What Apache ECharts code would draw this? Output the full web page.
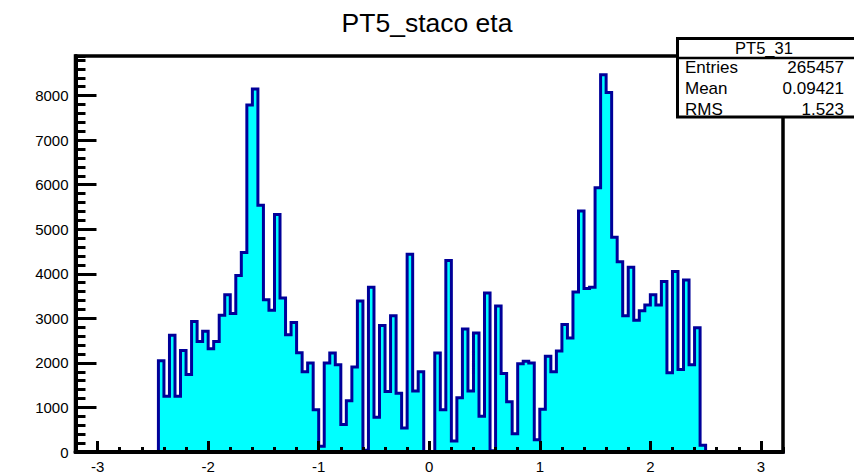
<!DOCTYPE html>
<html>
<head>
<meta charset="utf-8">
<title>PT5_staco eta</title>
<script src="https://cdn.jsdelivr.net/npm/echarts@6/dist/echarts.min.js"></script>
<style>
  html, body { margin: 0; padding: 0; background: #ffffff; }
  #chart { width: 854px; height: 474px; }
</style>
</head>
<body>
<div id="chart"></div>
<script>
// Muon eta histogram, 0.05-wide bins on [-3.2, 3.2]; only the filled range is listed,
// every other bin is empty.
const binLow = [
  -2.45, -2.40, -2.35, -2.30, -2.25, -2.20, -2.15, -2.10, -2.05, -2.00,
  -1.95, -1.90, -1.85, -1.80, -1.75, -1.70, -1.65, -1.60, -1.55, -1.50,
  -1.45, -1.40, -1.35, -1.30, -1.25, -1.20, -1.15, -1.10, -1.05, -1.00,
  -0.95, -0.90, -0.85, -0.80, -0.75, -0.70, -0.65, -0.60, -0.55, -0.50,
  -0.45, -0.40, -0.35, -0.30, -0.25, -0.20, -0.15, -0.10, -0.05, 0.00,
   0.05,  0.10,  0.15,  0.20,  0.25,  0.30,  0.35,  0.40,  0.45,  0.50,
   0.55,  0.60,  0.65,  0.70,  0.75,  0.80,  0.85,  0.90,  0.95,  1.00,
   1.05,  1.10,  1.15,  1.20,  1.25,  1.30,  1.35,  1.40,  1.45,  1.50,
   1.55,  1.60,  1.65,  1.70,  1.75,  1.80,  1.85,  1.90,  1.95,  2.00,
   2.05,  2.10,  2.15,  2.20,  2.25,  2.30,  2.35,  2.40,  2.45
];
const counts = [
  2050, 1250, 2620, 1250, 2280, 1740, 2930, 2480, 2710, 2320,
  2480, 3070, 3530, 3110, 3960, 4480, 7790, 8150, 5540, 3420,
  3180, 5330, 3460, 2630, 2910, 2230, 1800, 2000,  950,  130,
  2000, 2220, 1960,  615, 1150, 1910, 3390,   40, 3700,  780,
  2840, 1360, 3060, 1320,  540, 4440, 1370, 1800,    0,    0,
  2220,  950, 4300,  245, 1220, 2760, 1370, 2670,  800, 3570,
    30, 3280, 1760, 1130,  410, 1980, 2040, 2000,  275,  960,
  2150, 1800, 2270, 2860, 2560, 3590, 5410, 3670, 3700, 5930,
  8470, 8070, 4820, 4270, 3060, 4150, 2960, 3170, 3300, 3530,
  3300, 3830, 1780, 4050, 1850, 3860, 1960, 2790,  150
];
const binWidth = 0.05;
const etaRange = [-3.2, 3.2];
const xMajorTicks = [-3, -2, -1, 0, 1, 2, 3];
const yMax = 8890;
const yMajorStep = 1000;
const yMinorStep = 200;
const xMinorStep = 0.2;

const histTitle = 'PT5_staco eta';
const statsName = 'PT5_31';
const statsLabels = ['Entries', 'Mean', 'RMS'];
const statsValues = ['265457', '0.09421', '1.523'];

const FONT = '"Liberation Sans", Arial, Helvetica, sans-serif';
const INK = '#000000';
const FILL = '#00ffff';
const EDGE = '#000099';

// Stepped outline: each point holds its count until the next bin edge.
const lastEdge = Math.round((binLow[binLow.length - 1] + binWidth) * 100) / 100;
const stepPoints = [[etaRange[0], 0]]
  .concat(binLow.map((x, i) => [x, counts[i]]))
  .concat([[lastEdge, 0], [etaRange[1], 0]]);

const chart = echarts.init(document.getElementById('chart'), null, { renderer: 'svg' });

const statsGraphics = [
  {
    type: 'rect', z: 100,
    shape: { x: 677.5, y: 38.5, width: 200, height: 78.5 },
    style: { fill: '#ffffff', stroke: INK, lineWidth: 3 }
  },
  {
    type: 'line', z: 101,
    shape: { x1: 677.5, y1: 58, x2: 880, y2: 58 },
    style: { stroke: INK, lineWidth: 2.5 }
  },
  {
    type: 'text', z: 101,
    style: { text: statsName, x: 764, y: 48, align: 'center', verticalAlign: 'middle',
             font: '16.5px ' + FONT, fill: INK }
  }
];
const rowY = [67.5, 88, 109];
statsLabels.forEach((name, i) => {
  statsGraphics.push({
    type: 'text', z: 101,
    style: { text: name, x: 685, y: rowY[i], align: 'left', verticalAlign: 'middle',
             font: '17px ' + FONT, fill: INK }
  });
  statsGraphics.push({
    type: 'text', z: 101,
    style: { text: statsValues[i], x: 844, y: rowY[i], align: 'right', verticalAlign: 'middle',
             font: '17px ' + FONT, fill: INK }
  });
});

const plainNumber = v => String(Math.round(v * 1000) / 1000);

const option = {
  animation: false,
  backgroundColor: '#ffffff',
  grid: {
    left: 75.5, right: 71, top: 56, bottom: 19,
    show: true, borderColor: INK, borderWidth: 3.5, backgroundColor: 'transparent'
  },
  xAxis: [
    {
      // minor ticks every 0.2
      type: 'value', min: etaRange[0], max: etaRange[1], interval: xMinorStep,
      position: 'bottom', z: 5,
      axisLine: { show: true, onZero: false, lineStyle: { color: INK, width: 4 } },
      axisTick: { show: true, inside: true, length: 5, lineStyle: { color: INK, width: 3 } },
      axisLabel: { show: false },
      splitLine: { show: false }
    },
    {
      // major ticks and labels at whole units
      type: 'value', min: etaRange[0], max: etaRange[1],
      position: 'bottom', z: 5,
      axisLine: { show: false, onZero: false },
      axisTick: { show: true, inside: true, length: 11, customValues: xMajorTicks,
                  lineStyle: { color: INK, width: 3 } },
      axisLabel: { show: true, customValues: xMajorTicks, margin: 7, formatter: plainNumber,
                   fontFamily: FONT, fontSize: 15, color: INK },
      splitLine: { show: false }
    }
  ],
  yAxis: [
    {
      type: 'value', min: 0, max: yMax, interval: yMajorStep,
      position: 'left', z: 5,
      axisLine: { show: true, onZero: false, lineStyle: { color: INK, width: 4 } },
      axisTick: { show: true, inside: true, length: 21, lineStyle: { color: INK, width: 3 } },
      axisLabel: { show: true, margin: 7, showMaxLabel: false, formatter: plainNumber,
                   fontFamily: FONT, fontSize: 15, color: INK },
      splitLine: { show: false }
    },
    {
      // minor ticks every 200
      type: 'value', min: 0, max: yMax, interval: yMinorStep,
      position: 'left', z: 5,
      axisLine: { show: false, onZero: false },
      axisTick: { show: true, inside: true, length: 10, interval: 0,
                  lineStyle: { color: INK, width: 3 } },
      axisLabel: { show: false },
      splitLine: { show: false }
    }
  ],
  series: [
    {
      type: 'line',
      xAxisIndex: 0, yAxisIndex: 0,
      data: stepPoints,
      step: 'end',
      symbol: 'none',
      z: 2,
      lineStyle: { color: EDGE, width: 3, join: 'miter', cap: 'square' },
      areaStyle: { color: FILL, opacity: 1 }
    }
  ],
  graphic: [
    {
      type: 'text', z: 100,
      style: { text: histTitle, x: 427, y: 23, align: 'center', verticalAlign: 'middle',
               font: '26.5px ' + FONT, fill: INK }
    }
  ].concat(statsGraphics)
};

chart.setOption(option);
</script>
</body>
</html>
